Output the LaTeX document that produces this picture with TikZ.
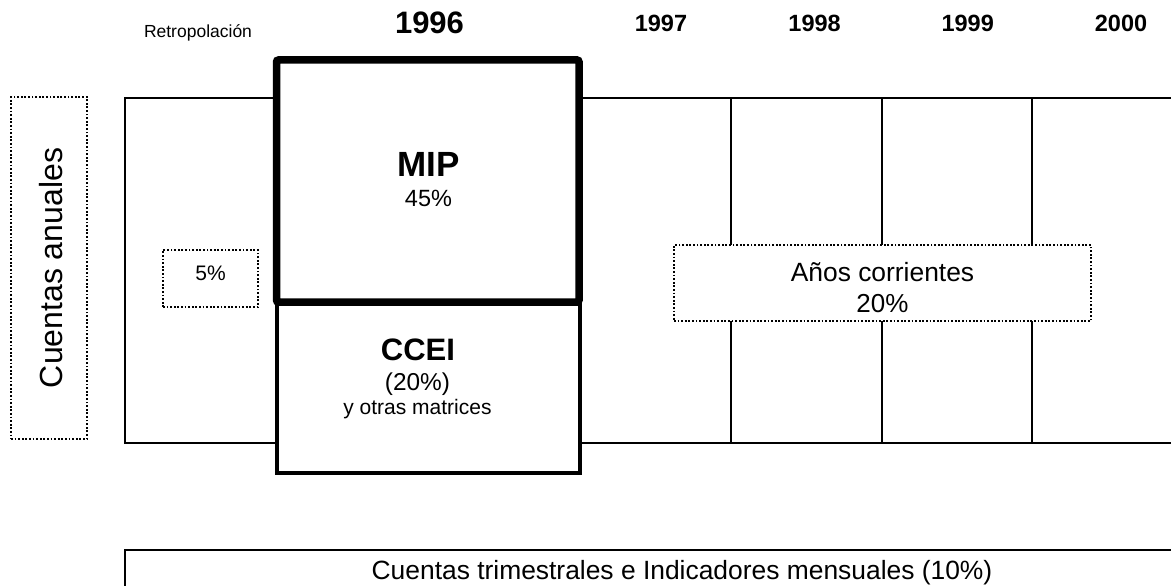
\documentclass[tikz,border=0pt]{standalone}
\usepackage{fontspec}
\setmainfont{Liberation Sans}

\begin{document}
\begin{tikzpicture}[x=1pt, y=-1pt,
		frame/.style={rectangle, draw=black, line width=1.8pt, inner sep=0pt},
		bigbox/.style={rectangle, draw=black, fill=white, line width=7.5pt, rounded corners=2pt, inner sep=0pt},
		subbox/.style={rectangle, draw=black, fill=white, line width=3.4pt, inner sep=0pt},
		share/.style={rectangle, draw=black, fill=white, line width=1.8pt, dash pattern=on 1.8pt off 1.8pt, inner sep=0pt},
		year/.style={anchor=base, inner sep=0pt, font=\fontsize{23.5}{28}\selectfont\bfseries},
		lbl/.style={anchor=base, inner sep=0pt}]
		\useasboundingbox (0,0) rectangle (1171,586);
		\node[frame, minimum width=1070, minimum height=345] (1) at (660,270.5) {};
		\foreach \x in {731,882,1032}
			\draw[line width=1.8pt] (\x,98) -- (\x,443);
		\node[subbox, minimum width=303, minimum height=171] (2) at (428.5,387.5) {};
		\node[bigbox, minimum width=302.5, minimum height=242] (3) at (427.75,181) {};
		\node[share, minimum width=76, minimum height=342] (4) at (49,268) {};
		\node[share, minimum width=95, minimum height=57] (5) at (210.5,278.5) {};
		\node[share, minimum width=417, minimum height=76] (6) at (882.5,283) {};
		\node[frame, minimum width=1114, minimum height=100] (7) at (682,600) {};
		
		\node[lbl, font=\fontsize{17.5}{20}\selectfont] (r) at (198,38) {Retropolación};
		\node[year, font=\fontsize{31}{34}\selectfont\bfseries] (y96) at (429.5,34) {1996};
		\node[year] (y97) at (661,32) {1997};
		\node[year] (y98) at (814.6,32) {1998};
		\node[year] (y99) at (967.7,32) {1999};
		\node[year] (y00) at (1121,32) {2000};
		
		\node[lbl, font=\fontsize{35}{38}\selectfont\bfseries] (mip) at (428.5,176) {MIP};
		\node[lbl, font=\fontsize{23.5}{26}\selectfont] (mipp) at (428.5,206) {45\%};
		\node[lbl, font=\fontsize{31}{34}\selectfont\bfseries] (ccei) at (418,360) {CCEI};
		\node[lbl, font=\fontsize{24.4}{27}\selectfont] (cceip) at (417.5,390) {(20\%)};
		\node[lbl, font=\fontsize{21}{24}\selectfont] (otras) at (417.5,414) {y otras matrices};
		\node[lbl, font=\fontsize{21}{24}\selectfont] (retp) at (210.5,280) {5\%};
		\node[lbl, font=\fontsize{26.4}{30}\selectfont] (anos) at (882.5,281.5) {Años corrientes};
		\node[lbl, font=\fontsize{26}{30}\selectfont] (anosp) at (882.5,312) {20\%};
		\node[lbl, rotate=90, font=\fontsize{32}{36}\selectfont] (ca) at (62,268) {Cuentas anuales};
		\node[lbl, font=\fontsize{26.4}{30}\selectfont] (ct) at (682,579) {Cuentas trimestrales e Indicadores mensuales (10\%)};
		
	\end{tikzpicture}
\end{document}
